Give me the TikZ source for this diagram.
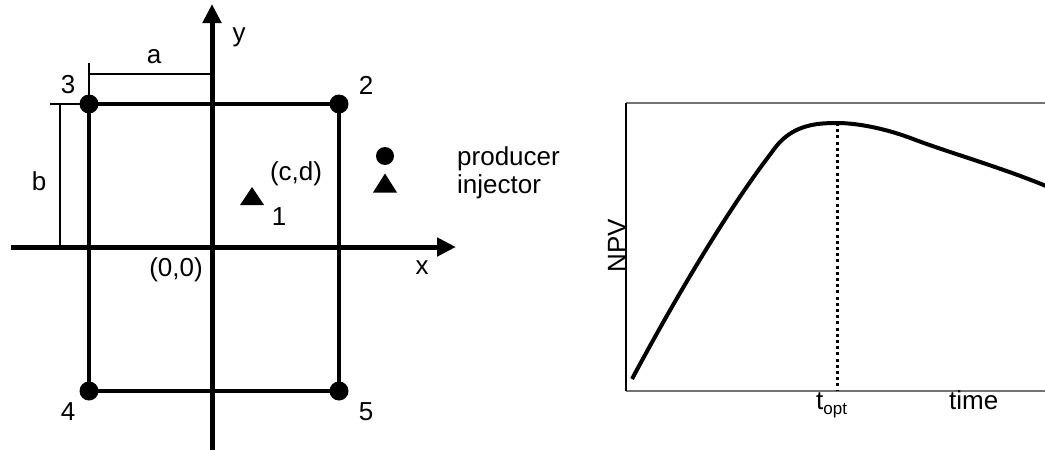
\documentclass[tikz,border=0pt]{standalone}
\usepackage{fontspec}
\setmainfont{Liberation Sans}
\usetikzlibrary{arrows.meta}
\begin{document}
\begin{tikzpicture}[x=1pt,y=-1pt,
  lbl/.style={inner sep=0pt, font=\fontsize{26}{31}\selectfont},
  well/.style={circle, fill=black, inner sep=0pt, minimum size=19pt},
  axis/.style={line width=5pt, -{Triangle[length=19pt,width=18pt]}},
  boundary/.style={line width=4.5pt},
  dimline/.style={line width=1.7pt},
  frameline/.style={line width=1.7pt, draw=black!55},
  curve/.style={line width=4pt, line join=round},
  optline/.style={line width=3pt, dash pattern=on 3pt off 3.2pt}]
\useasboundingbox (0,0) rectangle (1045,450);

% ---------- left diagram ----------
\coordinate (xs) at (11,247);
\coordinate (xe) at (456,247);
\coordinate (ys) at (212,452);
\coordinate (ye) at (212,4);
\draw[axis] (xs) -- (xe);
\draw[axis] (ys) -- (ye);

\node[well] (w3) at (89,104) {};
\node[well] (w2) at (339,104) {};
\node[well] (w4) at (89,391) {};
\node[well] (w5) at (339,391) {};
\draw[boundary] (w3.center) -- (w2.center) -- (w5.center) -- (w4.center) -- cycle;

% dimension a
\coordinate (at) at (89,63);
\coordinate (aa) at (89,74);
\coordinate (ab) at (212,74);
\draw[dimline] (at) -- (w3.center);
\draw[dimline] (aa) -- (ab);
% dimension b
\coordinate (bt) at (50,104);
\coordinate (ba) at (60,104);
\coordinate (bb) at (60,247);
\draw[dimline] (bt) -- (w3.center);
\draw[dimline] (ba) -- (bb);

% injector
\coordinate (inj) at (252,196);
\fill ([shift={(-12,9)}]inj) -- ([shift={(0,-9)}]inj) -- ([shift={(12,9)}]inj) -- cycle;

% labels
\node[lbl] (l3) at (68,85) {3};
\node[lbl] (l2) at (366,85) {2};
\node[lbl] (l4) at (68,412) {4};
\node[lbl] (l5) at (366,412) {5};
\node[lbl] (la) at (154,57) {a};
\node[lbl] (lb) at (39,181) {b};
\node[lbl] (ly) at (239,37) {y};
\node[lbl] (lx) at (422,268) {x};
\node[lbl] (lo) at (176,270) {(0,0)};
\node[lbl] (lcd) at (296,174) {(c,d)};
\node[lbl] (l1) at (279,217) {1};

% legend
\node[well, minimum size=18pt] (lp) at (385,156) {};
\coordinate (li) at (385,183);
\fill ([shift={(-12,9.5)}]li) -- ([shift={(0,-9.5)}]li) -- ([shift={(12,9.5)}]li) -- cycle;
\node[lbl, anchor=base west] (tp) at (457,165) {producer};
\node[lbl, anchor=base west] (ti) at (457,193) {injector};

% ---------- right diagram ----------
\coordinate (fl) at (626,103);
\coordinate (fb) at (626,391);
\coordinate (ftr) at (1050,103);
\coordinate (fbr) at (1050,391);
\draw[frameline] (fl) -- (ftr);
\draw[frameline] (fb) -- (fbr);
\draw[line width=1.7pt] (fl) -- (fb);

\coordinate (c0) at (632,379);
\coordinate (c1) at (772,152);
\coordinate (pk) at (837,123);
\coordinate (c3) at (913,139);
\coordinate (c4) at (1046,186);
\draw[curve] (c0) .. controls (685,280) and (735,200) .. (c1)
  .. controls (790,125) and (815,123) .. (pk)
  .. controls (860,123) and (890,130) .. (c3)
  .. controls (950,153) and (1000,167) .. (c4);

\coordinate (pb) at (837,391);
\draw[optline] (pk) -- (pb);

\node[lbl, rotate=90] (npv) at (617,246) {NPV};
\node[lbl, anchor=base west] (topt) at (816,409) {t\raisebox{-5pt}{\fontsize{17}{17}\selectfont opt}};
\node[lbl, anchor=base west] (time) at (949,409) {time};
\end{tikzpicture}
\end{document}
